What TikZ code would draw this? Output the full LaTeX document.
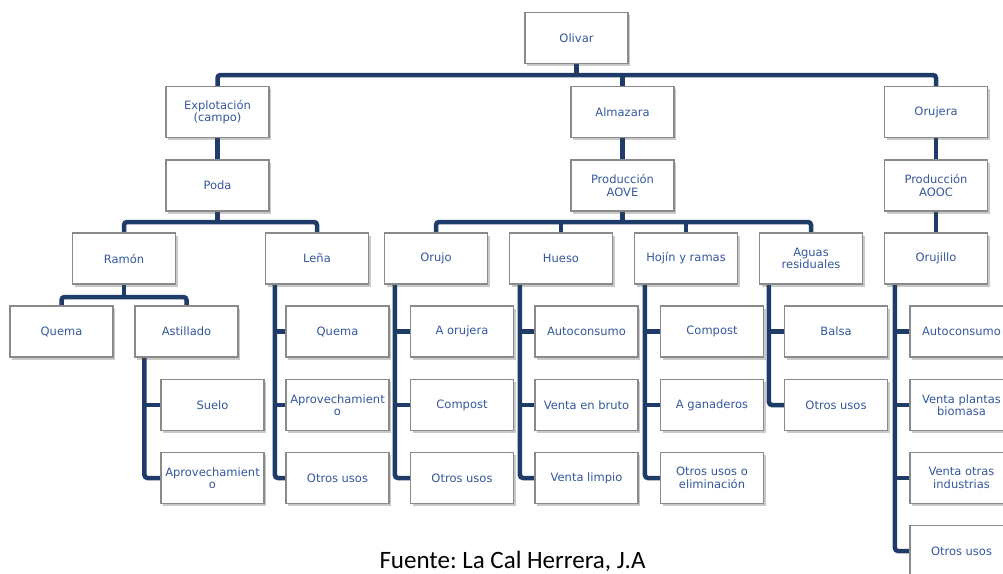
\documentclass[tikz,border=0pt]{standalone}
\usepackage{fontspec}
\setmainfont{DejaVu Sans}
\newfontfamily\footfont{Carlito}
\usetikzlibrary{shadows,backgrounds}
\definecolor{navy}{HTML}{1F3B68}
\definecolor{txt}{HTML}{34589A}
\definecolor{bord}{HTML}{8A8A8A}
\tikzset{
 box/.style={draw=bord, line width=1.1pt, fill=white, minimum width=103pt, minimum height=51pt,
   inner sep=1pt, text=txt, font=\fontsize{11.5}{12.5}\selectfont, align=center,
   drop shadow={shadow xshift=2pt, shadow yshift=-2.5pt, opacity=0.3, fill=black!70}},
 conn/.style={draw=navy, line width=4.5pt, rounded corners=3pt}
}
\frenchspacing
\begin{document}
\begin{tikzpicture}[x=1pt,y=-1pt]
\useasboundingbox (0,0) rectangle (1003,573);
\clip (0,0) rectangle (1003,573);
% nodes
\node[box] (olivar) at (576.5,38) {Olivar};
\node[box] (expl) at (217.5,112) {Explotación\\(campo)};
\node[box] (alma) at (622.5,112) {Almazara};
\node[box] (oruj) at (936,112) {Orujera};
\node[box] (poda) at (217.5,185.5) {Poda};
\node[box] (aove) at (622.5,185.5) {Producción\\AOVE};
\node[box] (aooc) at (936,185.5) {Producción\\AOOC};
\node[box] (ramon) at (124,258.5) {Ramón};
\node[box] (lena) at (317,258.5) {Leña};
\node[box] (orujo) at (436,258.5) {Orujo};
\node[box] (hueso) at (561,258.5) {Hueso};
\node[box] (hojin) at (686,258.5) {Hojín y ramas};
\node[box] (aguas) at (811,258.5) {Aguas\\residuales};
\node[box] (orujillo) at (936,258.5) {Orujillo};
\node[box] (quema) at (61.5,331.5) {Quema};
\node[box] (astill) at (186.5,331.5) {Astillado};
\node[box] (suelo) at (212.5,405) {Suelo};
\node[box] (aprovA) at (212.5,478) {Aprovechamient\\o};
\node[box] (lq) at (337.5,331.5) {Quema};
\node[box] (la) at (337.5,405) {Aprovechamient\\o};
\node[box] (lo) at (337.5,478) {Otros usos};
\node[box] (oa) at (462,331.5) {A orujera};
\node[box] (oc) at (462,405) {Compost};
\node[box] (oo) at (462,478) {Otros usos};
\node[box] (ha) at (586.5,331.5) {Autoconsumo};
\node[box] (hv) at (586.5,405) {Venta en bruto};
\node[box] (hl) at (586.5,478) {Venta limpio};
\node[box] (jc) at (712,331.5) {Compost};
\node[box] (jg) at (712,405) {A ganaderos};
\node[box] (jo) at (712,478) {Otros usos o\\eliminación};
\node[box] (ab) at (836,331.5) {Balsa};
\node[box] (ao) at (836,405) {Otros usos};
\node[box] (ra) at (961.5,331.5) {Autoconsumo};
\node[box] (rv) at (961.5,405) {Venta plantas\\biomasa};
\node[box] (ri) at (961.5,478) {Venta otras\\industrias};
\node[box] (ro) at (961.5,551) {Otros usos};
\node[font=\footfont\fontsize{25}{27}\selectfont, text=black, anchor=base, inner sep=0pt] (fuente) at (512.5,568) {Fuente: La Cal Herrera, J.A};
% connectors
\coordinate (b1) at (0,75);
\coordinate (b2) at (0,222);
\coordinate (b3) at (0,297);
\coordinate (astS) at ([xshift=10pt]astill.south west);
\coordinate (lenaS) at ([xshift=10pt]lena.south west);
\coordinate (orujoS) at ([xshift=11pt]orujo.south west);
\coordinate (huesoS) at ([xshift=11pt]hueso.south west);
\coordinate (hojinS) at ([xshift=11pt]hojin.south west);
\coordinate (aguasS) at ([xshift=10pt]aguas.south west);
\coordinate (orujilloS) at ([xshift=11pt]orujillo.south west);
\begin{scope}[on background layer]
\draw[conn] (olivar.south) -- (olivar.south |- b1);
\draw[conn] (expl.north) -- (expl.north |- b1) -- (oruj.north |- b1) -- (oruj.north);
\draw[conn] (alma.north) -- (alma.north |- b1);
\draw[conn] (expl.south) -- (poda.north);
\draw[conn] (alma.south) -- (aove.north);
\draw[conn] (oruj.south) -- (aooc.north);
\draw[conn] (aooc.south) -- (orujillo.north);
\draw[conn] (poda.south) -- (poda.south |- b2);
\draw[conn] (ramon.north) -- (ramon.north |- b2) -- (lena.north |- b2) -- (lena.north);
\draw[conn] (aove.south) -- (aove.south |- b2);
\draw[conn] (orujo.north) -- (orujo.north |- b2) -- (aguas.north |- b2) -- (aguas.north);
\draw[conn] (hueso.north) -- (hueso.north |- b2);
\draw[conn] (hojin.north) -- (hojin.north |- b2);
\draw[conn] (ramon.south) -- (ramon.south |- b3);
\draw[conn] (quema.north) -- (quema.north |- b3) -- (astill.north |- b3) -- (astill.north);
% side groups
\draw[conn] (astS) |- (aprovA.west);
\draw[conn] (astS |- suelo.west) -- (suelo.west);
\draw[conn] (lenaS) |- (lo.west);
\draw[conn] (lenaS |- lq.west) -- (lq.west);
\draw[conn] (lenaS |- la.west) -- (la.west);
\draw[conn] (orujoS) |- (oo.west);
\draw[conn] (orujoS |- oa.west) -- (oa.west);
\draw[conn] (orujoS |- oc.west) -- (oc.west);
\draw[conn] (huesoS) |- (hl.west);
\draw[conn] (huesoS |- ha.west) -- (ha.west);
\draw[conn] (huesoS |- hv.west) -- (hv.west);
\draw[conn] (hojinS) |- (jo.west);
\draw[conn] (hojinS |- jc.west) -- (jc.west);
\draw[conn] (hojinS |- jg.west) -- (jg.west);
\draw[conn] (aguasS) |- (ao.west);
\draw[conn] (aguasS |- ab.west) -- (ab.west);
\draw[conn] (orujilloS) |- (ro.west);
\draw[conn] (orujilloS |- ra.west) -- (ra.west);
\draw[conn] (orujilloS |- rv.west) -- (rv.west);
\draw[conn] (orujilloS |- ri.west) -- (ri.west);
\end{scope}
\end{tikzpicture}
\end{document}
